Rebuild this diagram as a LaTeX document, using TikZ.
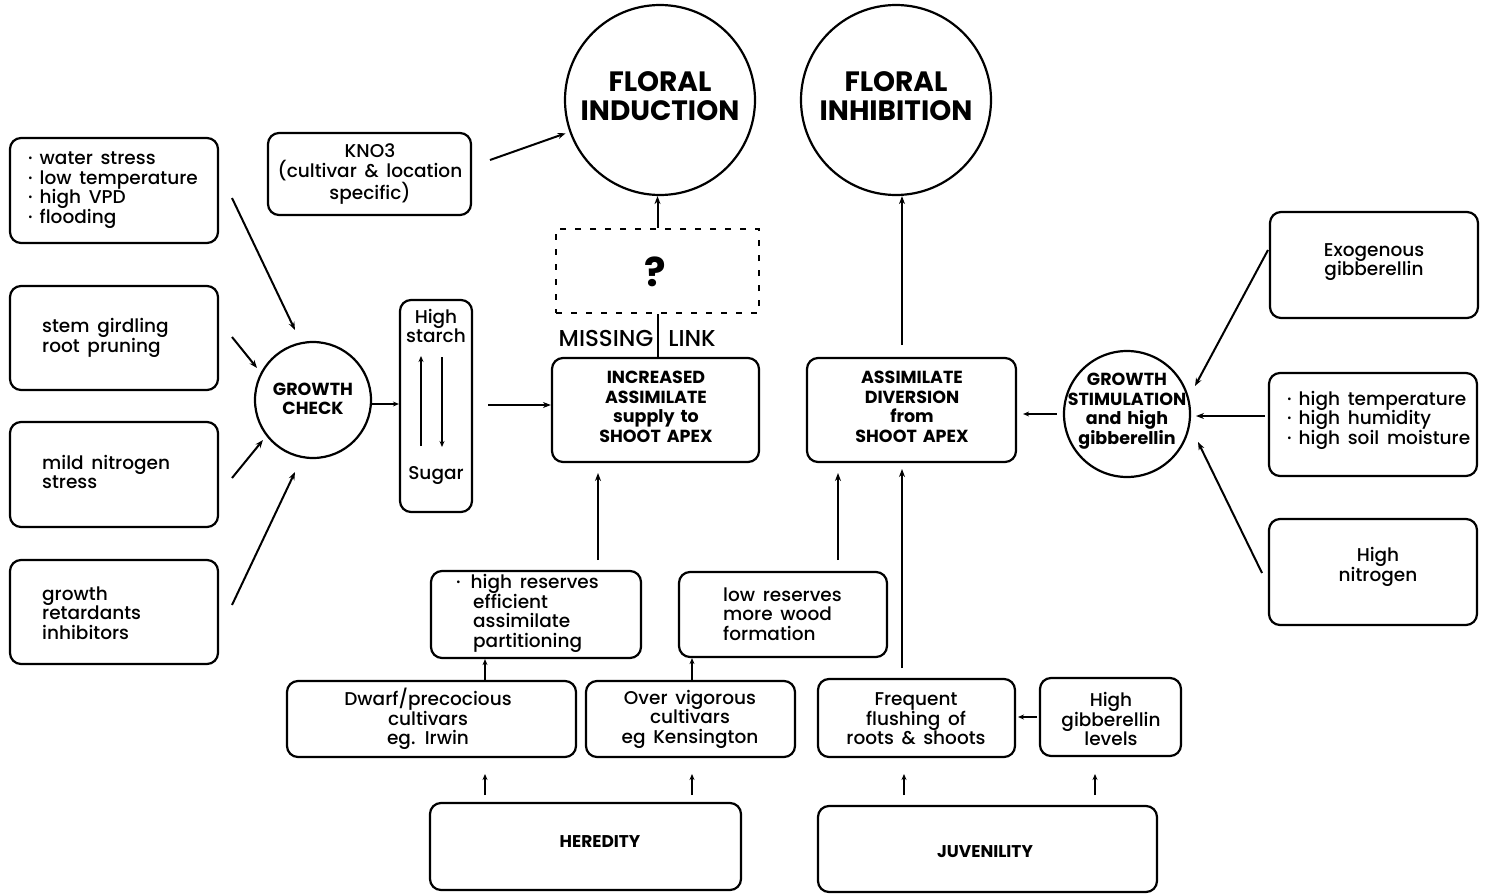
\documentclass[tikz,border=0pt]{standalone}
\usepackage{fontspec}
\setmainfont{Poppins}[UprightFont={* Medium},BoldFont={* Bold},WordSpace=1.6]
\usetikzlibrary{arrows.meta}
\begin{document}
\begin{tikzpicture}[x=1pt,y=-1pt,
  box/.style={draw,line width=2.2pt,rounded corners=11pt,inner sep=0pt},
  circ/.style={draw,circle,line width=2.2pt,inner sep=0pt},
  txt/.style={font=\fontsize{18.5}{19.5}\selectfont,align=center,inner sep=0pt},
  ltxt/.style={txt,align=left,anchor=west},
  btxt/.style={font=\fontsize{17.5}{19.5}\selectfont\bfseries,align=center,inner sep=0pt},
  big/.style={font=\fontsize{28}{29}\selectfont\bfseries,align=center,inner sep=0pt},
  arr/.style={line width=2pt,-{Stealth[length=8pt,width=6pt]}},
  sarr/.style={line width=1.8pt,-{Stealth[length=6pt,width=5pt]}},
  ln/.style={line width=2pt}]
\useasboundingbox (0,0) rectangle (1491,894);

% left boxes
\node[box,minimum width=208pt,minimum height=105pt] (b1) at (114,190.5) {};
\node[ltxt] (b1t) at (28,190) {·\hspace{7pt}water stress\\·\hspace{7pt}low temperature\\·\hspace{7pt}high VPD\\·\hspace{7pt}flooding};
\node[box,minimum width=208pt,minimum height=104pt] (b2) at (114,338) {};
\node[ltxt] (b2t) at (42,338) {stem girdling\\root pruning};
\node[box,minimum width=208pt,minimum height=105pt] (b3) at (114,474.5) {};
\node[ltxt] (b3t) at (42,472) {mild nitrogen\\stress};
\node[box,minimum width=208pt,minimum height=104pt] (b4) at (114,612) {};
\node[ltxt] (b4t) at (42,613) {growth\\retardants\\inhibitors};

% KNO3
\node[box,minimum width=203pt,minimum height=82pt] (kno) at (369.5,174) {};
\node[txt] (knot) at (370,174) {KNO3\\(cultivar \& location\\specific)};

% growth check
\node[circ,minimum size=116pt] (gc) at (313,400) {};
\node[btxt] (gct) at (313,399) {GROWTH\\CHECK};

% starch / sugar
\node[box,minimum width=72pt,minimum height=212pt] (st) at (436,406) {};
\node[txt] (stt) at (436,326) {High\\starch};
\node[txt] (sut) at (436,475) {Sugar};
\coordinate (su1) at (421,446); \coordinate (su2) at (421,356);
\coordinate (sd1) at (442,357); \coordinate (sd2) at (442,447);
\draw[sarr] (su1) -- (su2);
\draw[sarr] (sd1) -- (sd2);

% increased assimilate
\node[box,minimum width=207pt,minimum height=104pt] (inc) at (655.5,410) {};
\node[btxt] (inct) at (656,407) {INCREASED\\ASSIMILATE\\supply to\\SHOOT APEX};

% missing link
\node[draw,line width=2.4pt,dash pattern=on 6pt off 9pt,minimum width=203pt,minimum height=84pt,inner sep=0pt] (q) at (657.5,271) {};
\node[font=\fontsize{40}{42}\selectfont\bfseries,inner sep=0pt] (qt) at (655,272) {?};
\node[font=\fontsize{23}{24}\selectfont,inner sep=0pt] (ml1) at (606,338) {MISSING};
\node[font=\fontsize{23}{24}\selectfont,inner sep=0pt] (ml2) at (692,338) {LINK};
\draw[ln] (q.south) -- (q.south |- inc.north);

% floral circles
\node[circ,minimum size=190pt] (fi) at (660,100) {};
\node[big] (fit) at (660,96) {FLORAL\\INDUCTION};
\node[circ,minimum size=190pt] (fh) at (896,100) {};
\node[big] (fht) at (896,96) {FLORAL\\INHIBITION};
\draw[arr] (q.north) -- (q.north |- fi.south);
\coordinate (k1) at (490,160);
\draw[arr,shorten >=4pt] (k1) -- (fi);

% assimilate diversion
\node[box,minimum width=209pt,minimum height=104pt] (div) at (911.5,410) {};
\node[btxt] (divt) at (912,407) {ASSIMILATE\\DIVERSION\\from\\SHOOT APEX};
\coordinate (d1) at (902,345);
\draw[arr] (d1) -- (d1 |- fh.south);

% growth stimulation
\node[circ,minimum size=126pt] (gs) at (1127,414) {};
\node[btxt] (gst) at (1127,411) {GROWTH\\STIMULATION\\and high\\gibberellin};
\draw[sarr,shorten <=6pt,shorten >=6pt] (gs.west) -- (gs.west -| div.east);

% right boxes
\node[box,minimum width=208pt,minimum height=106pt] (ex) at (1374,265) {};
\node[txt] (ext) at (1374,262) {Exogenous\\gibberellin};
\node[box,minimum width=208pt,minimum height=103pt] (ht) at (1373,424.5) {};
\node[ltxt] (htt) at (1287,420) {·\hspace{7pt}high temperature\\·\hspace{7pt}high humidity\\·\hspace{7pt}high soil moisture};
\node[box,minimum width=208pt,minimum height=106pt] (hn) at (1373,572) {};
\node[txt] (hnt) at (1378,567) {High\\nitrogen};
\coordinate (e1) at (1268,250); \coordinate (e2) at (1195,386);
\draw[arr] (e1) -- (e2);
\coordinate (h1) at (1265,416); \coordinate (h2) at (1196,416);
\draw[arr] (h1) -- (h2);
\coordinate (n1) at (1262,573); \coordinate (n2) at (1198,442);
\draw[arr] (n1) -- (n2);

% left arrows to growth check
\coordinate (a1) at (232,198); \coordinate (a1e) at (295,330);
\draw[arr] (a1) -- (a1e);
\coordinate (a2) at (232,337); \coordinate (a2e) at (257,368);
\draw[arr] (a2) -- (a2e);
\coordinate (a3) at (232,478); \coordinate (a3e) at (263,440);
\draw[arr] (a3) -- (a3e);
\coordinate (a4) at (232,605); \coordinate (a4e) at (295,472);
\draw[arr] (a4) -- (a4e);
\draw[sarr] (gc.east |- 0,404) -- (st.west |- 0,404);
\coordinate (s1) at (488,405);
\draw[arr] (s1) -- (s1 -| inc.west);

% bottom boxes
\node[box,minimum width=210pt,minimum height=87pt] (hr) at (536,614.5) {};
\node[ltxt] (hrt) at (456,613.5) {·\hspace{10pt}high reserves\\\hspace{17pt}efficient\\\hspace{17pt}assimilate\\\hspace{17pt}partitioning};
\node[box,minimum width=208pt,minimum height=85pt] (lr) at (783,614.5) {};
\node[ltxt] (lrt) at (723,614) {low reserves\\more wood\\formation};
\node[box,minimum width=289pt,minimum height=76pt] (dw) at (431.5,719) {};
\node[txt] (dwt) at (428,719) {Dwarf/precocious\\cultivars\\eg. Irwin};
\node[box,minimum width=209pt,minimum height=76pt] (ov) at (690.5,719) {};
\node[txt] (ovt) at (690,719) {Over vigorous\\cultivars\\eg Kensington};
\node[box,minimum width=197pt,minimum height=78pt] (fr) at (916.5,718) {};
\node[txt] (frt) at (916,719) {Frequent\\flushing of\\roots \& shoots};
\node[box,minimum width=141pt,minimum height=78pt] (hg) at (1110.5,717) {};
\node[txt] (hgt) at (1111,719) {High\\gibberellin\\levels};
\node[box,minimum width=311pt,minimum height=87pt] (he) at (585.5,846.5) {};
\node[btxt,font=\fontsize{17}{19}\selectfont\bfseries] (het) at (600,842) {HEREDITY};
\node[box,minimum width=339pt,minimum height=86pt] (ju) at (987.5,849) {};
\node[btxt,font=\fontsize{17}{19}\selectfont\bfseries] (jut) at (985,852) {JUVENILITY};

% bottom arrows
\coordinate (r1) at (598,560);
\draw[arr] (r1) -- (598,473);
\coordinate (r2) at (838,560);
\draw[arr] (r2) -- (838,473);
\coordinate (r3) at (902,668);
\draw[arr] (r3) -- (902,469);
\coordinate (r4) at (485,681);
\draw[sarr] (r4) -- (r4 |- hr.south);
\coordinate (r5) at (692,681);
\draw[sarr] (r5) -- (r5 |- lr.south);
\coordinate (r6) at (1037,717);
\draw[sarr] (r6) -- (1018,717);
\coordinate (r7) at (485,795);
\draw[sarr] (r7) -- (485,774);
\coordinate (r8) at (692,795);
\draw[sarr] (r8) -- (692,774);
\coordinate (r9) at (904,795);
\draw[sarr] (r9) -- (904,774);
\coordinate (r10) at (1095,795);
\draw[sarr] (r10) -- (1095,774);
\end{tikzpicture}
\end{document}
